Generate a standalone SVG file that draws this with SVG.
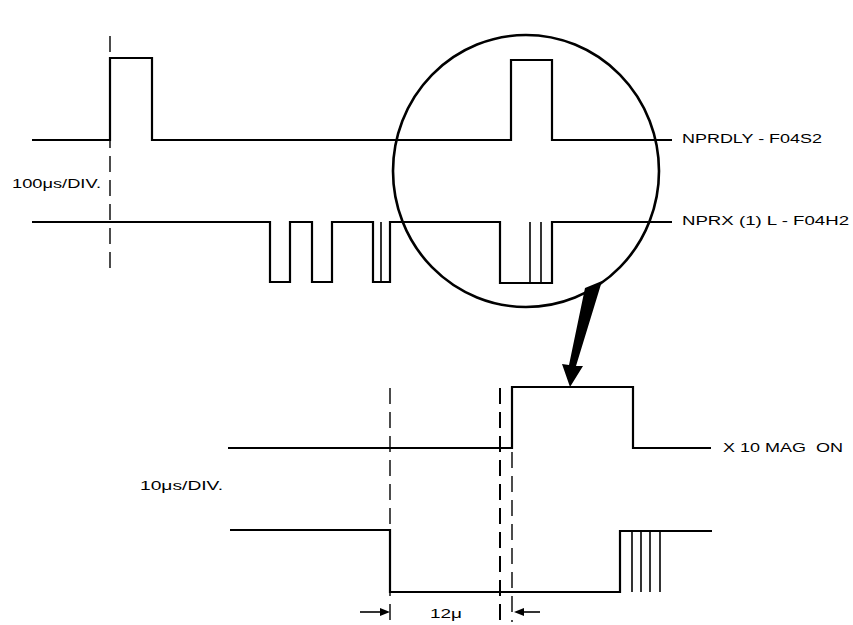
<svg xmlns="http://www.w3.org/2000/svg" width="853" height="625" viewBox="0 0 853 625">
<style>
.tr{fill:none;stroke:#000;stroke-width:2.2;stroke-linejoin:miter}
.thin{fill:none;stroke:#000;stroke-width:1.6}
.dash{fill:none;stroke:#000;stroke-width:1.4;stroke-dasharray:16 8}
.lbl{font-family:"Liberation Sans",Arial,sans-serif;font-size:12px;fill:#000;white-space:pre}
</style>
<rect width="853" height="625" fill="#fff"/>
<g id="grid">
<line class="dash" x1="110" y1="36" x2="110" y2="268"/>
<line class="dash" x1="390" y1="388" x2="390" y2="622"/>
<line class="dash" x1="500" y1="388" x2="500" y2="622" style="stroke-width:2"/>
<line class="dash" x1="512" y1="452" x2="512" y2="622"/>
</g>
<g id="trace-nprdly">
<path class="tr" d="M32 140 H110 V58 H152 V140 H511 V60 H552 V140 H672"/>
<text class="lbl" x="682" y="143" textLength="140" lengthAdjust="spacingAndGlyphs">NPRDLY - F04S2</text>
</g>
<g id="trace-nprx">
<path class="tr" d="M32 222 H270 V282 H290 V222 H312 V282 H332 V222 H373 V282 H390 V222 H500 V283 H552 V222 H672"/>
<line class="thin" x1="381" y1="222" x2="381" y2="282"/>
<line class="thin" x1="530" y1="222" x2="530" y2="283"/>
<line class="thin" x1="541" y1="222" x2="541" y2="283"/>
<text class="lbl" x="682" y="225" textLength="167" lengthAdjust="spacingAndGlyphs">NPRX (1) L - F04H2</text>
</g>
<g id="label-100us">
<text class="lbl" x="12" y="188" textLength="89" lengthAdjust="spacingAndGlyphs">100μs/DIV.</text>
</g>
<g id="magnifier">
<ellipse cx="526" cy="171" rx="133" ry="136" fill="none" stroke="#000" stroke-width="2.6"/>
<polygon points="585,288 602,281 576,366 583,366 570,387 562,364 569,365" fill="#000"/>
</g>
<g id="trace-mag">
<path class="tr" d="M228 448 H512 V387 H633 V448 H711"/>
<text class="lbl" x="723" y="452" textLength="120" lengthAdjust="spacingAndGlyphs" xml:space="preserve">X 10 MAG  ON</text>
</g>
<g id="trace-mag2">
<path class="tr" d="M230 530 H390 V592 H620 V531 H712"/>
<line class="thin" x1="632" y1="531" x2="632" y2="592"/>
<line class="thin" x1="641" y1="531" x2="641" y2="592"/>
<line class="thin" x1="650" y1="531" x2="650" y2="592"/>
<line class="thin" x1="660" y1="531" x2="660" y2="592"/>
</g>
<g id="label-10us">
<text class="lbl" x="140" y="490" textLength="83" lengthAdjust="spacingAndGlyphs">10μs/DIV.</text>
</g>
<g id="connectors">
<line class="thin" x1="360" y1="612" x2="382" y2="612"/>
<polygon points="380,608 390,612 380,616" fill="#000"/>
<line class="thin" x1="522" y1="612" x2="540" y2="612"/>
<polygon points="524,608 514,612 524,616" fill="#000"/>
<text class="lbl" x="430" y="618" textLength="32" lengthAdjust="spacingAndGlyphs">12μ</text>
</g>
</svg>
